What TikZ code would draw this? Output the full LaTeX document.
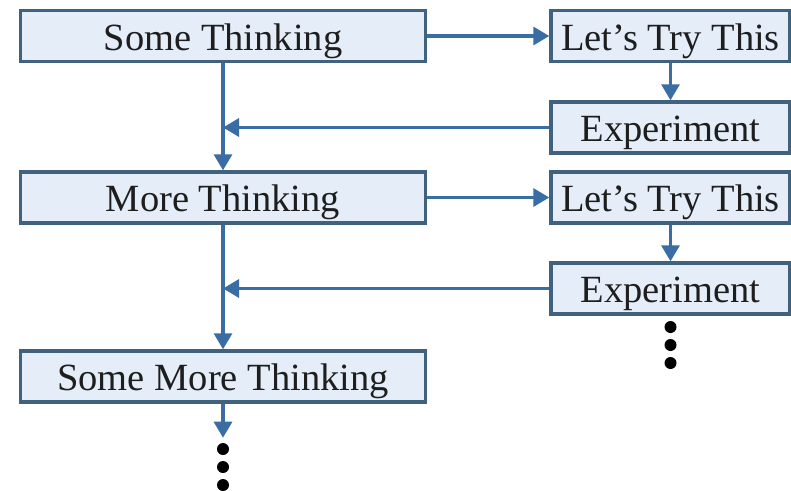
\documentclass[tikz,border=0pt]{standalone}
\usepackage{fontspec}
\setmainfont{Liberation Serif}
\usetikzlibrary{arrows.meta}
\definecolor{boxfill}{HTML}{E4EDF8}
\definecolor{boxline}{HTML}{41627F}
\definecolor{flowline}{HTML}{3A6DA3}
\definecolor{ink}{HTML}{1E1E1E}
\newcommand{\dotstack}[2]{%
  \foreach \k in {0,1,2}{
    \fill[black] (#1,#2+\k*18) circle (6);}}
\tikzset{
  box/.style={draw=boxline, line width=3.4pt, fill=boxfill, text=ink,
    inner sep=0pt, minimum height=51pt, text height=32pt, text depth=4pt,
    font=\fontsize{38.5}{40}\selectfont},
  flow/.style={draw=flowline, line width=3.2pt,
    -{Triangle[length=16pt,width=18pt]}}}
\begin{document}
\begin{tikzpicture}[x=1pt,y=-1pt]
  \useasboundingbox[fill=white] (0,0) rectangle (791,490);
  % thinking column
  \node[box, minimum width=405pt] (think1) at (223,36) {Some Thinking};
  \node[box, minimum width=405pt] (think2) at (223,197.5) {More Thinking};
  \node[box, minimum width=405pt] (think3) at (223,376.5) {Some More Thinking};
  % trying column
  \node[box, minimum width=239pt] (try1) at (670.5,36) {Let's Try This};
  \node[box, minimum width=239pt] (exp1) at (670.5,127.5) {Experiment};
  \node[box, minimum width=239pt] (try2) at (670.5,197.5) {Let's Try This};
  \node[box, minimum width=239pt] (exp2) at (670.5,288.5) {Experiment};
  \coordinate (join1) at (think1.south |- exp1.west);
  \coordinate (join2) at (think2.south |- exp2.west);
  \coordinate (tail) at ([yshift=-34pt]think3.south);
  \draw[flow] (think1.east) -- (try1.west);
  \draw[flow] (think2.east) -- (try2.west);
  \draw[flow] (try1.south) -- (exp1.north);
  \draw[flow] (try2.south) -- (exp2.north);
  \draw[flow] (exp1.west) -- (join1);
  \draw[flow] (exp2.west) -- (join2);
  \draw[flow] (think1.south) -- (think2.north);
  \draw[flow] (think2.south) -- (think3.north);
  \draw[flow] (think3.south) -- (tail);
  \dotstack{670.5}{327}
  \dotstack{223}{449}
\end{tikzpicture}
\end{document}
